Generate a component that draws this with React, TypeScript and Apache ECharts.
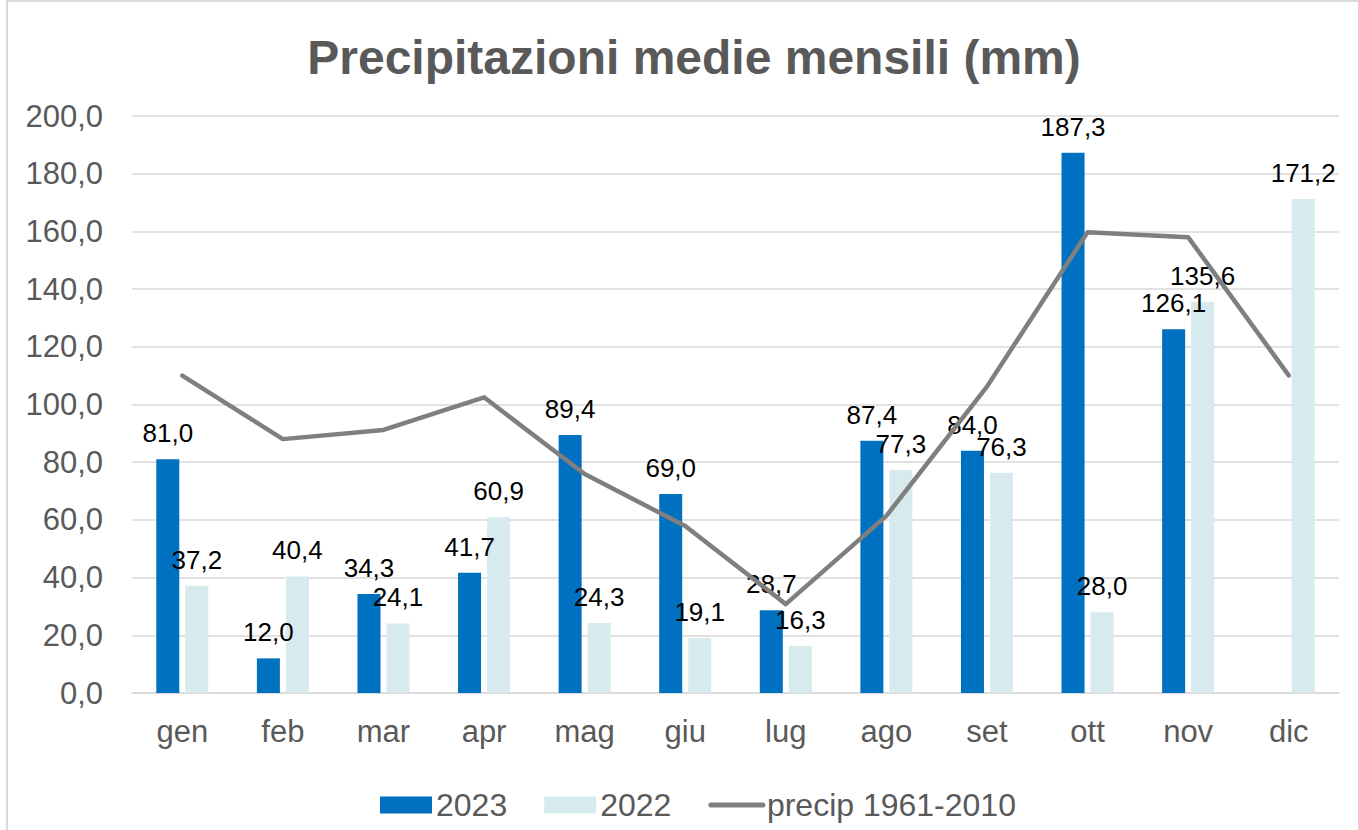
import React, { useEffect, useRef } from "react";
import * as echarts from "echarts";

const months = ["gen", "feb", "mar", "apr", "mag", "giu", "lug", "ago", "set", "ott", "nov", "dic"];
const values2023: (number | null)[] = [81.0, 12.0, 34.3, 41.7, 89.4, 69.0, 28.7, 87.4, 84.0, 187.3, 126.1, null];
const values2022: number[] = [37.2, 40.4, 24.1, 60.9, 24.3, 19.1, 16.3, 77.3, 76.3, 28.0, 135.6, 171.2];
const precip19612010: number[] = [110.0, 88.0, 91.2, 102.5, 75.9, 57.9, 30.8, 61.4, 106.2, 159.7, 158.0, 110.1];

const fmt = (v: number) => v.toFixed(1).replace(".", ",");
const FONT = "'Liberation Sans', Arial, sans-serif";

export default function App() {
  const ref = useRef<HTMLDivElement>(null);
  useEffect(() => {
    if (!ref.current) return;
    const chart = echarts.init(ref.current, null, { renderer: "svg" });
    const labelCfg = {
      show: true,
      position: "top" as const,
      distance: 13,
      fontSize: 26,
      color: "#000000",
      fontFamily: FONT,
      formatter: (p: any) => (p.value == null ? "" : fmt(p.value)),
    };
    chart.setOption({
      animation: false,
      backgroundColor: "#ffffff",
      textStyle: { fontFamily: FONT },
      title: {
        text: "Precipitazioni medie mensili (mm)",
        left: 689,
        top: 28,
        textAlign: "center",
        textStyle: { fontSize: 48, fontWeight: "bold", color: "#595959", fontFamily: FONT },
      },
      graphic: [
        {
          type: "rect",
          shape: { x: 7, y: 1, width: 1360, height: 840 },
          style: { fill: "none", stroke: "#d9d9d9", lineWidth: 2 },
          silent: true,
        },
      ],
      legend: {
        left: 375,
        top: 784,
        itemWidth: 52,
        itemHeight: 17,
        itemGap: 37,
        lineStyle: { width: 5, cap: "round" },
        textStyle: { fontSize: 32, color: "#595959", fontFamily: FONT, padding: [0, 0, 0, -1] },
        data: [
          { name: "2023", icon: "rect" },
          { name: "2022", icon: "rect" },
          { name: "precip 1961-2010", itemStyle: { opacity: 0 }, lineStyle: { width: 5, cap: "round" } },
        ],
      },
      grid: { left: 132, right: 19, top: 116, bottom: 137 },
      xAxis: {
        type: "category",
        data: months,
        axisTick: { show: false },
        axisLine: { lineStyle: { color: "#d9d9d9", width: 1.5 } },
        axisLabel: { fontSize: 31, color: "#595959", margin: 23, fontFamily: FONT },
      },
      yAxis: {
        type: "value",
        min: 0,
        max: 200,
        interval: 20,
        axisLine: { show: false },
        axisTick: { show: false },
        splitLine: { lineStyle: { color: "#d9d9d9", width: 1.5 } },
        axisLabel: {
          fontSize: 31,
          color: "#595959",
          margin: 29,
          fontFamily: FONT,
          formatter: (v: number) => fmt(v),
        },
      },
      series: [
        {
          name: "2023",
          type: "bar",
          data: values2023,
          barWidth: 23,
          barGap: "26%",
          itemStyle: { color: "#0070C0" },
          label: labelCfg,
          z: 2,
        },
        {
          name: "2022",
          type: "bar",
          data: values2022,
          barWidth: 23,
          barGap: "26%",
          itemStyle: { color: "#D7EBEE" },
          label: labelCfg,
          z: 2,
        },
        {
          name: "precip 1961-2010",
          type: "line",
          data: precip19612010,
          symbol: "none",
          showSymbol: false,
          lineStyle: { color: "#7f7f7f", width: 4.5, cap: "round", join: "round" },
          itemStyle: { color: "#7f7f7f" },
          z: 3,
        },
      ],
    });
    return () => chart.dispose();
  }, []);
  return (
    <div
      ref={ref}
      style={{ position: "fixed", left: 0, top: 0, width: 1358, height: 830 }}
    />
  );
}
